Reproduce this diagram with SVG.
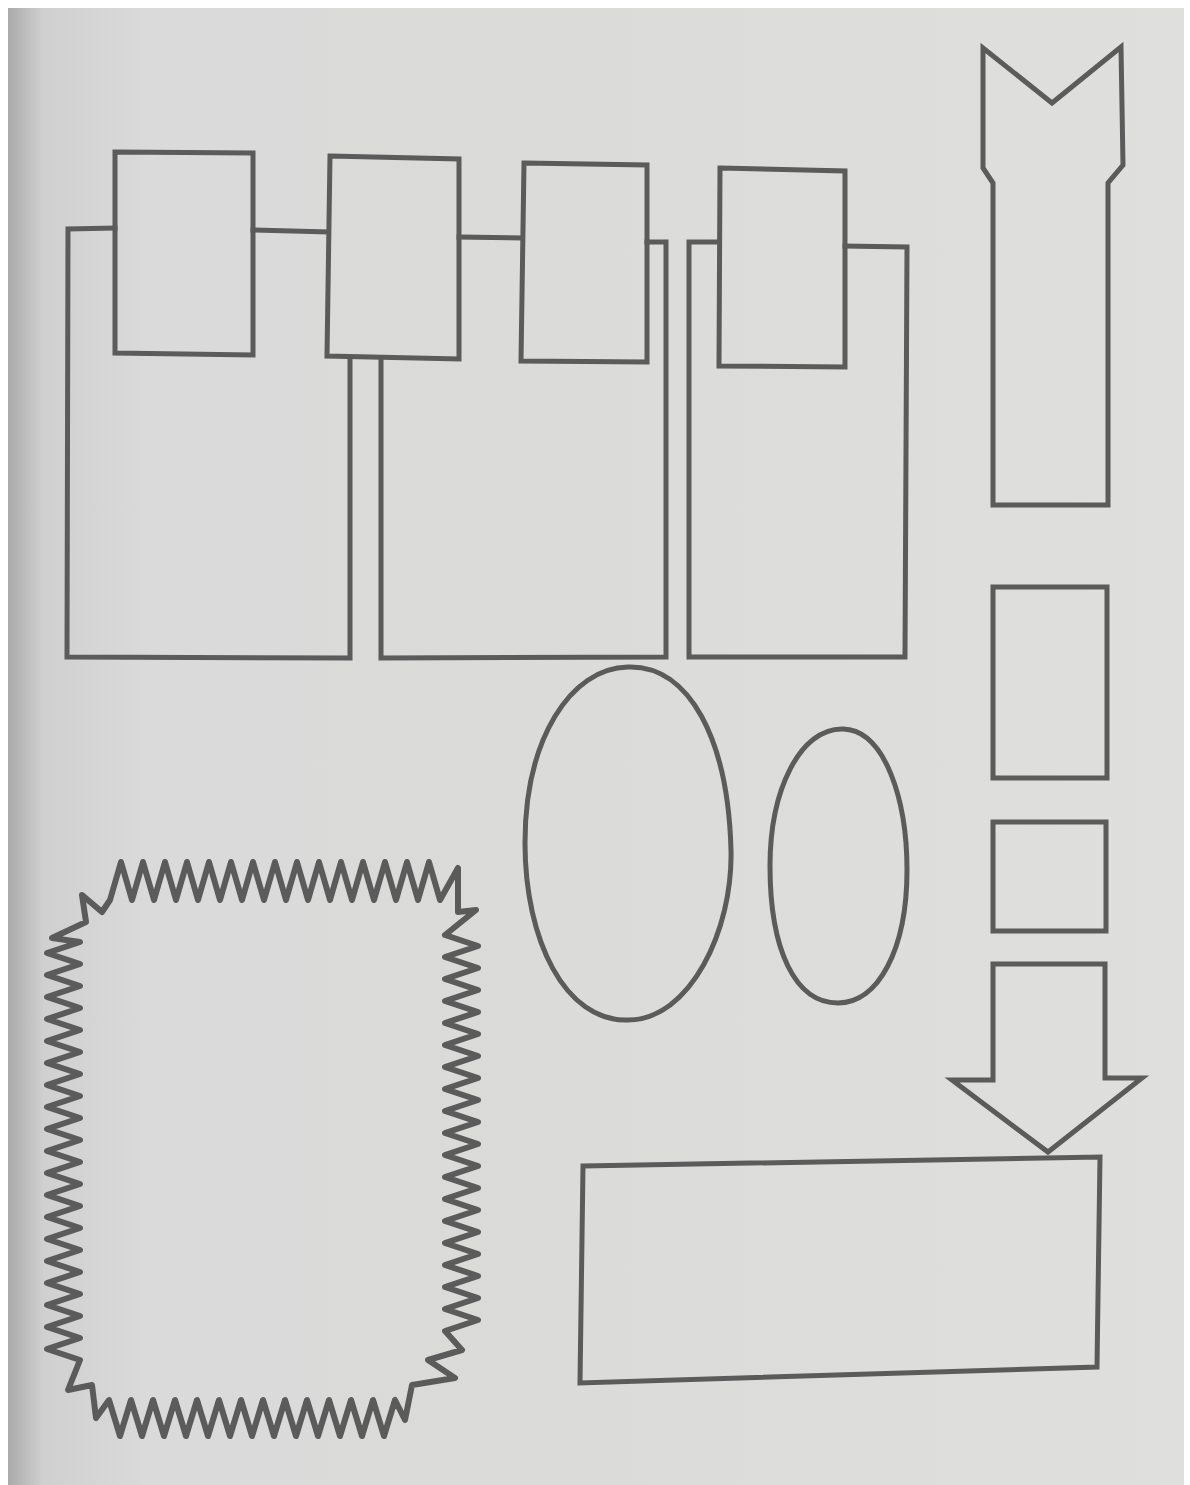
<svg xmlns="http://www.w3.org/2000/svg" width="1190" height="1485" viewBox="0 0 1190 1485">
<defs>
<linearGradient id="paper" x1="0" y1="0" x2="1" y2="0">
<stop offset="0" stop-color="#a9aaa9"/>
<stop offset="0.03" stop-color="#cfd0cf"/>
<stop offset="0.12" stop-color="#d9dad9"/>
<stop offset="0.6" stop-color="#dcdcda"/>
<stop offset="1" stop-color="#dfdfdd"/>
</linearGradient>
<style>
.s{fill:none;stroke:#5b5b5b;stroke-width:5;stroke-linejoin:miter;stroke-linecap:square}
.z{fill:none;stroke:#5b5b5b;stroke-width:6;stroke-linejoin:round;stroke-linecap:round}
</style>
</defs>
<rect x="0" y="0" width="1190" height="1485" fill="#ffffff"/>
<rect x="8" y="8" width="1176" height="1477" fill="url(#paper)"/>

<g id="small1"><path class="s" d="M115,152 L253,153 L253,355 L115,353 Z"/></g>
<g id="small2"><path class="s" d="M330,156 L459,159 L459,359 L327,356 Z"/></g>
<g id="small3"><path class="s" d="M524,163 L647,165 L647,362 L521,361 Z"/></g>
<g id="small4"><path class="s" d="M720,168 L845,171 L845,367 L719,366 Z"/></g>

<g id="big1"><path class="s" d="M115,228 L68,229 L67,657 L350,658 L350,360"/></g>
<g id="big2"><path class="s" d="M381,359 L381,658 L666,657 L666,242 L647,242"/></g>
<g id="big3"><path class="s" d="M719,242 L689,242 L689,657 L905,657 L907,247 L845,246"/></g>

<g id="connectors">
<path class="s" d="M253,230 L327,232"/>
<path class="s" d="M459,237 L521,238"/>
</g>

<g id="tower"><path class="s" d="M983,48 L1052,103 L1121,47 L1123,165 L1108,183 L1108,505 L993,505 L993,183 L983,168 Z"/></g>
<g id="rectA"><path class="s" d="M993,587 L1107,587 L1107,778 L993,778 Z"/></g>
<g id="rectB"><path class="s" d="M993,822 L1106,822 L1106,931 L993,931 Z"/></g>
<g id="downArrow"><path class="s" d="M993,964 L1105,964 L1105,1078 L1142,1078 L1048,1152 L952,1080 L993,1080 Z"/></g>
<g id="bottomRect"><path class="s" d="M583,1166 L1100,1157 L1097,1367 L580,1383 Z"/></g>

<g id="ellipse1"><path class="s" d="M628,667 C690,665 728,740 731,850 C733,930 690,1020 628,1020 C565,1022 525,940 525,843 C525,740 570,668 628,667 Z"/></g>
<g id="ellipse2"><path class="s" d="M843,729 C885,730 907,800 907,870 C907,950 878,1003 838,1003 C795,1003 770,950 770,866 C770,790 800,728 843,729 Z"/></g>

<g id="burst"><path class="z" d="M110,900
l11,-38 l11,38 l11,-38 l11,38 l11,-38 l11,38 l11,-38 l11,38 l11,-38 l11,38
l11,-38 l11,38 l11,-38 l11,38 l11,-38 l11,38 l11,-38 l11,38 l11,-38 l11,38
l11,-38 l11,38 l11,-38 l11,38 l11,-38 l11,38 l11,-38 l11,38 l11,-38 l11,38
L458,868 L458,912 L476,910 L445,935
l33,11 l-33,11 l33,11 l-33,11 l33,11 l-33,11 l33,11 l-33,11 l33,11 l-33,11 l33,11 l-33,11
l33,11 l-33,11 l33,11 l-33,11 l33,11 l-33,11 l33,11 l-33,11 l33,11 l-33,11 l33,11 l-33,11
l33,11 l-33,11 l33,11 l-33,11 l33,11 l-33,11 l33,11 l-33,11 l33,11 l-33,11 l33,11 l-33,11
L462,1350 L428,1360 L455,1378 L412,1385 L405,1420 L395,1400
l-11,36 l-11,-36 l-11,36 l-11,-36 l-11,36 l-11,-36 l-11,36 l-11,-36 l-11,36 l-11,-36
l-11,36 l-11,-36 l-11,36 l-11,-36 l-11,36 l-11,-36 l-11,36 l-11,-36 l-11,36 l-11,-36
l-11,36 l-11,-36 l-11,36 l-11,-36 l-11,36 l-11,-36
L96,1418 L92,1385 L68,1390 L80,1360
l-33,-11 l33,-11 l-33,-11 l33,-11 l-33,-11 l33,-11 l-33,-11 l33,-11 l-33,-11 l33,-11
l-33,-11 l33,-11 l-33,-11 l33,-11 l-33,-11 l33,-11 l-33,-11 l33,-11 l-33,-11 l33,-11
l-33,-11 l33,-11 l-33,-11 l33,-11 l-33,-11 l33,-11 l-33,-11 l33,-11 l-33,-11 l33,-11
l-33,-11 l33,-11 l-33,-11 l33,-11 l-33,-11 l33,-11 l-33,-11 l33,-11
L52,938 L86,922 L82,895 L102,912 Z"/></g>
</svg>
